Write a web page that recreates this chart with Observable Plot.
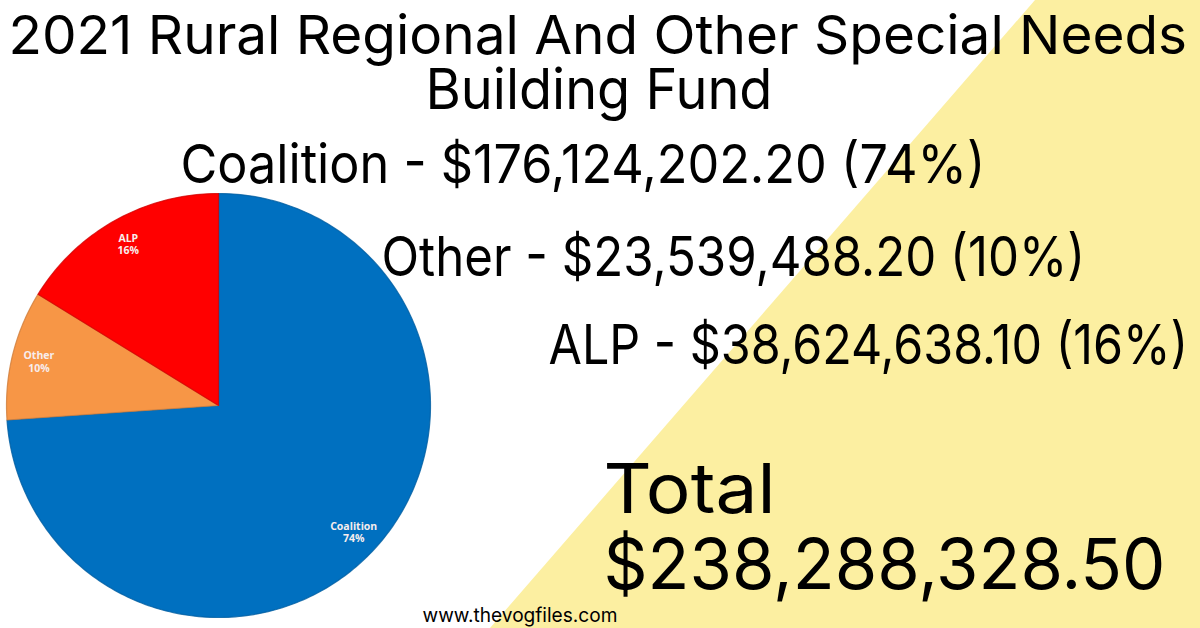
<!DOCTYPE html>
<html>
<head>
<meta charset="utf-8">
<script src="https://cdn.jsdelivr.net/npm/d3@7"></script>
<script src="https://cdn.jsdelivr.net/npm/@observablehq/plot@0.6"></script>
<style>
  html, body { margin: 0; padding: 0; background: #ffffff; }
  #wrap { position: relative; width: 1200px; height: 628px; overflow: hidden; background: #ffffff; }
  #band { position: absolute; left: 0; top: 0; width: 1200px; height: 628px;
          background: #fcefa1;
          clip-path: polygon(1035px 0px, 1200px 0px, 1200px 628px, 490px 628px); }
  #chart { position: absolute; left: 0; top: 0; }
</style>
</head>
<body>
<div id="wrap"><div id="band"></div><div id="chart"></div></div>
<script>
// ---- data ----
const parties = ["Coalition", "Other", "ALP"];
const amounts = [176124202.20, 23539488.20, 38624638.10];
const sliceColors = ["#0070C0", "#F79646", "#FF0000"];
const titleLines = ["2021 Rural Regional And Other Special Needs", "Building Fund"];
const totalLabel = "Total";
const footerText = "www.thevogfiles.com";

// ---- layout ----
const W = 1200, H = 628;
const pieCenter = {x: 218, y: 405}, pieR = 212, labelR = 185;
const font = "Inter, 'Noto Sans', sans-serif";
// one entry per headline text, in order: x, baseline y, target width, font size
const headLayout = [
  {x: 8,   y: 53,  w: 1179, size: 54},
  {x: 425, y: 108, w: 347,  size: 56},
  {x: 180, y: 182, w: 805,  size: 54},
  {x: 381, y: 275, w: 704,  size: 55},
  {x: 548, y: 363, w: 640,  size: 55},
  {x: 603, y: 512, w: 172,  size: 69},
  {x: 603, y: 588, w: 562,  size: 70},
  {x: 422, y: 621, w: 195,  size: 20}
];

const fmt = d3.format(",.2f");
const total = d3.sum(amounts);
const rows = parties.map((p, i) => ({party: p, amount: amounts[i], color: sliceColors[i], pct: Math.round(amounts[i] / total * 100)}));

const headTexts = [
  ...titleLines,
  ...rows.map(r => `${r.party} - $${fmt(r.amount)} (${r.pct}%)`),
  totalLabel,
  "$" + fmt(total),
  footerText
];
const headData = headTexts.map((t, i) => ({text: t, ...headLayout[i]}));

// pie geometry from data
const arcs = d3.pie().sort(null).value(d => d.amount)(rows);
const slicePts = [];
const labels = [];
for (const a of arcs) {
  const {party, color} = a.data;
  slicePts.push({party, color, x: pieCenter.x, y: pieCenter.y});
  const n = Math.max(8, Math.ceil((a.endAngle - a.startAngle) / (Math.PI / 180)));
  for (let k = 0; k <= n; k++) {
    const t = a.startAngle + (a.endAngle - a.startAngle) * k / n;
    slicePts.push({party, color, x: pieCenter.x + pieR * Math.sin(t), y: pieCenter.y - pieR * Math.cos(t)});
  }
  const m = (a.startAngle + a.endAngle) / 2;
  labels.push({text: `${party}\n${a.data.pct}%`, x: pieCenter.x + labelR * Math.sin(m), y: pieCenter.y - labelR * Math.cos(m)});
}

const plot = Plot.plot({
  width: W, height: H,
  margin: 0,
  x: {domain: [0, W], range: [0, W], axis: null},
  y: {domain: [0, H], range: [0, H], axis: null},
  style: {background: "transparent", overflow: "visible"},
  marks: [
    Plot.line(slicePts, {
      x: "x", y: "y", z: "party",
      fill: d => d.color,
      stroke: d => d3.color(d.color).darker(0.5).formatHex(),
      strokeWidth: 1.2, strokeOpacity: 0.8,
      curve: "linear-closed"
    }),
    Plot.text(labels, {
      x: "x", y: "y", text: "text",
      fill: "#f7eded", fontSize: 10.5, fontWeight: "bold",
      fontFamily: "'Open Sans', sans-serif", lineHeight: 1.2,
      textAnchor: "middle", lineAnchor: "middle"
    }),
    Plot.text(headData, {
      x: "x", y: "y", text: "text", fontSize: "size",
      fill: "#000000", fontFamily: font, fontWeight: 400,
      textAnchor: "start", lineAnchor: "bottom"
    })
  ]
});
document.getElementById("chart").appendChild(plot);

// squeeze each headline horizontally to the width it has in the reference
const allTexts = Array.from(plot.querySelectorAll("text"));
headData.forEach(h => {
  const el = allTexts.find(t => t.textContent === h.text);
  if (!el) return;
  const natural = el.getBBox().width;
  if (!natural) return;
  const s = h.w / natural;
  const tr = el.getAttribute("transform") || "";
  if (tr) {
    el.setAttribute("transform", `${tr} scale(${s},1)`);
  } else {
    const x = +(el.getAttribute("x") || 0), y = +(el.getAttribute("y") || 0);
    el.setAttribute("transform", `translate(${x},${y}) scale(${s},1)`);
    el.setAttribute("x", 0); el.setAttribute("y", 0);
  }
});
</script>
</body>
</html>
